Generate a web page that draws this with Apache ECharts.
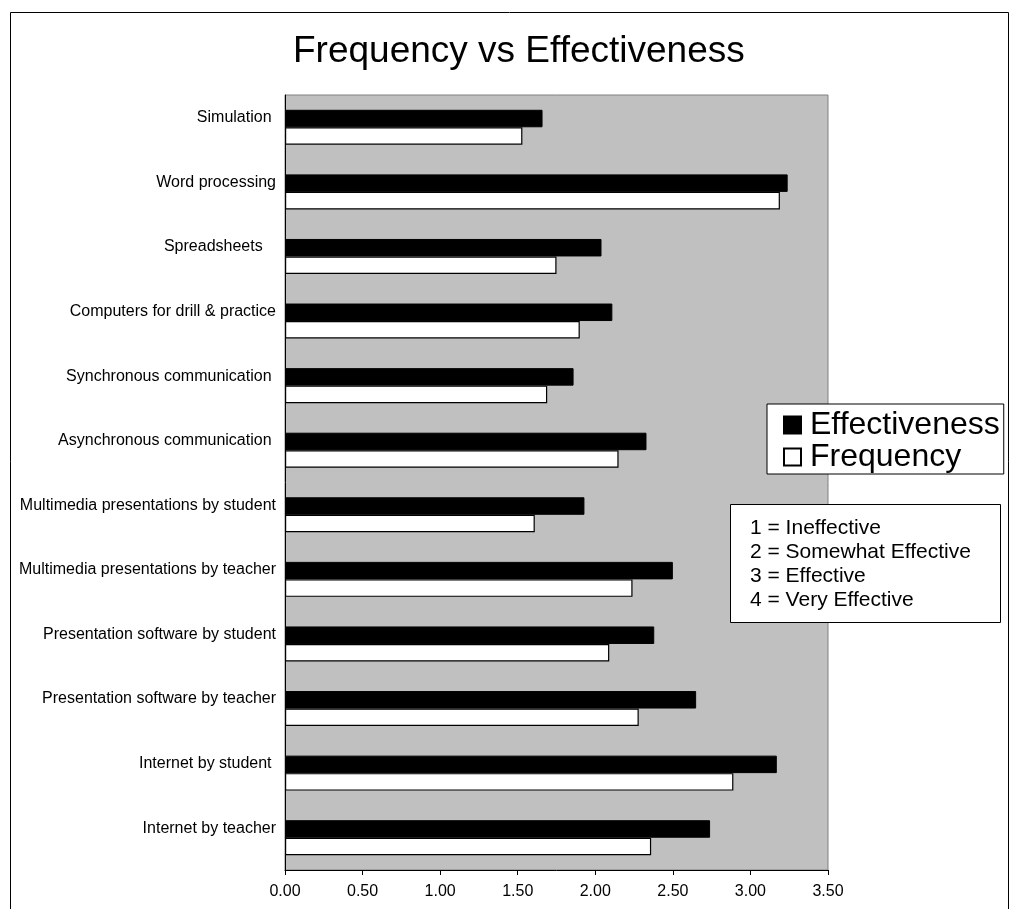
<!DOCTYPE html>
<html>
<head>
<meta charset="utf-8">
<title>Frequency vs Effectiveness</title>
<script src="https://cdn.jsdelivr.net/npm/echarts@6/dist/echarts.min.js"></script>
<style>
  html, body { margin: 0; padding: 0; background: #fff; }
  #chart { width: 1011px; height: 909px; }
</style>
</head>
<body>
<div id="chart"></div>
<script>
'use strict';

// Categories listed top to bottom, as they read in the picture.
const categories = [
  'Simulation ',
  'Word processing',
  'Spreadsheets   ',
  'Computers for drill & practice',
  'Synchronous communication ',
  'Asynchronous communication ',
  'Multimedia presentations by student',
  'Multimedia presentations by teacher',
  'Presentation software by student',
  'Presentation software by teacher',
  'Internet by student ',
  'Internet by teacher',
];

const effectiveness = [1.66, 3.24, 2.04, 2.11, 1.86, 2.33, 1.93, 2.50, 2.38, 2.65, 3.17, 2.74];
const frequency = [1.53, 3.19, 1.75, 1.90, 1.69, 2.15, 1.61, 2.24, 2.09, 2.28, 2.89, 2.36];

const xTicks = { min: 0, max: 3.5, interval: 0.5 };

const scaleNote = [
  '1 = Ineffective',
  '2 = Somewhat Effective',
  '3 = Effective',
  '4 = Very Effective',
];

const FONT = '"Liberation Sans", Arial, sans-serif';

const chart = echarts.init(document.getElementById('chart'), null, { renderer: 'canvas' });

chart.setOption({
  animation: false,
  backgroundColor: '#fff',
  textStyle: { fontFamily: FONT, color: '#000' },
  title: [
    {
      text: 'Frequency vs Effectiveness',
      left: 293,
      top: 33,
      padding: 0,
      textStyle: { fontFamily: FONT, fontSize: 37, fontWeight: 'normal', color: '#000' },
    },
    {
      // the rating scale note box
      text: scaleNote.join('\n'),
      left: 730,
      top: 504,
      padding: [12, 30, 11, 20],
      backgroundColor: '#fff',
      borderColor: '#000',
      borderWidth: 1,
      textStyle: { fontFamily: FONT, fontSize: 21, lineHeight: 24, fontWeight: 'normal', color: '#000' },
    },
  ],
  legend: {
    orient: 'vertical',
    left: 767,
    top: 404,
    padding: [5, 4, 1, 16],
    itemGap: 0,
    itemWidth: 17,
    itemHeight: 17,
    icon: 'rect',
    backgroundColor: '#fff',
    borderColor: '#000',
    borderWidth: 1,
    textStyle: { fontFamily: FONT, fontSize: 32, color: '#000', padding: [0, 0, 0, 4] },
    data: ['Effectiveness', 'Frequency'],
  },
  grid: {
    left: 285,
    right: 183,
    top: 95,
    bottom: 39,
    show: true,
    backgroundColor: '#c0c0c0',
    borderColor: '#808080',
    borderWidth: 1,
  },
  xAxis: {
    type: 'value',
    min: xTicks.min,
    max: xTicks.max,
    interval: xTicks.interval,
    axisLine: { show: true, lineStyle: { color: '#000', width: 1 } },
    axisTick: { show: true, length: 5, lineStyle: { color: '#000' } },
    splitLine: { show: false },
    axisLabel: {
      fontFamily: FONT,
      fontSize: 16,
      color: '#000',
      margin: 14,
      formatter: (v) => v.toFixed(2),
    },
  },
  yAxis: {
    type: 'category',
    inverse: true,
    data: categories,
    axisLine: { show: true, lineStyle: { color: '#000', width: 1 } },
    axisTick: { show: false },
    splitLine: { show: false },
    axisLabel: {
      fontFamily: FONT,
      fontSize: 16,
      color: '#000',
      margin: 9,
      // labels sit level with the black bar, above the band centre
      verticalAlign: 'bottom',
      lineHeight: 19,
    },
  },
  series: [
    {
      name: 'Effectiveness',
      type: 'bar',
      data: effectiveness,
      barWidth: 17.5,
      barGap: '0%',
      itemStyle: { color: '#000', borderColor: '#000', borderWidth: 1 },
    },
    {
      name: 'Frequency',
      type: 'bar',
      data: frequency,
      barWidth: 17.5,
      barGap: '0%',
      itemStyle: { color: '#fff', borderColor: '#000', borderWidth: 1.2 },
    },
  ],
  graphic: [
    {
      // outer chart frame, runs off the bottom of the picture
      type: 'rect',
      silent: true,
      z: -1,
      shape: { x: 10.5, y: 12.5, width: 998, height: 940 },
      style: { fill: null, stroke: '#000', lineWidth: 1 },
    },
  ],
});
</script>
</body>
</html>
